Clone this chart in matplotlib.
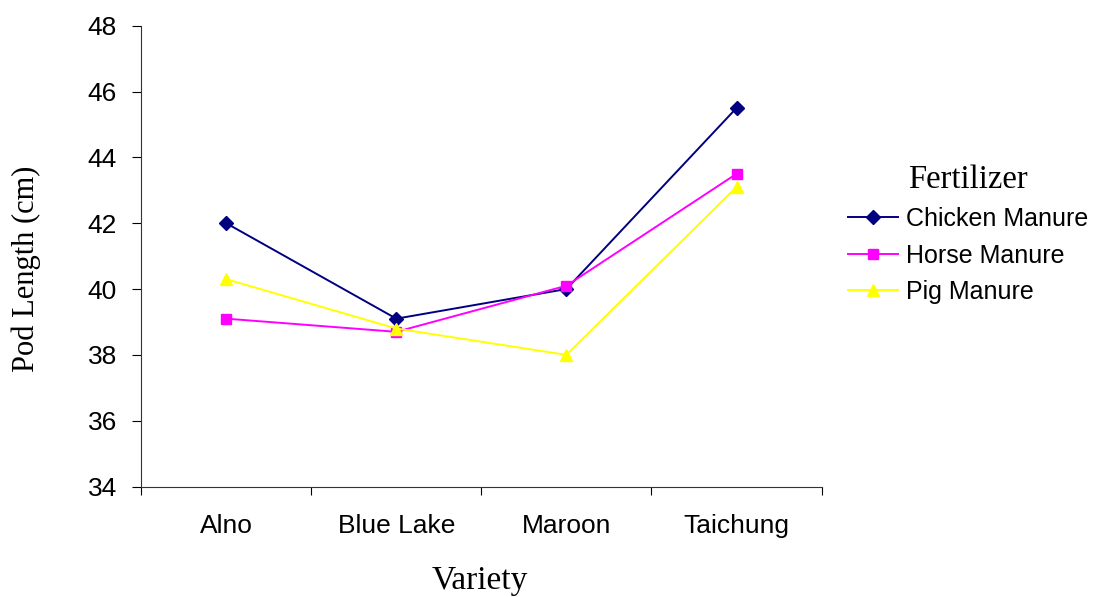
import matplotlib.pyplot as plt
import numpy as np

# Pod length by variety and fertilizer
varieties = ['Alno', 'Blue Lake', 'Maroon', 'Taichung']
chicken = [42.0, 39.1, 40.0, 45.5]
horse = [39.1, 38.7, 40.1, 43.5]
pig = [40.3, 38.8, 38.0, 43.1]

fig = plt.figure(figsize=(10.94, 5.97), dpi=100)
ax = fig.add_axes([0.129, 0.185, 0.622, 0.772])

x = np.arange(len(varieties))
ax.plot(x, chicken, color='#000080', marker='D', markersize=7, lw=1.4, label='Chicken Manure')
ax.plot(x, horse, color='#FF00FF', marker='s', markersize=7.5, lw=1.4, label='Horse Manure')
ax.plot(x, pig, color='#FFFF00', marker='^', markersize=8.5, lw=1.4, label='Pig Manure')

ax.set_xlim(-0.5, len(varieties) - 0.5)
ax.set_ylim(34, 48)
ax.set_yticks(np.arange(34, 49, 2))

# category labels centred, tick marks between categories
ax.set_xticks(x)
ax.set_xticklabels(varieties)
ax.set_xticks(np.arange(-0.5, len(varieties), 1), minor=True)
ax.tick_params(axis='x', which='major', length=0, pad=20)
ax.tick_params(axis='x', which='minor', length=6, width=0.8, direction='out')
ax.tick_params(axis='y', length=6.5, width=0.8, direction='out', pad=11)
for lab in ax.get_xticklabels() + ax.get_yticklabels():
    lab.set_family('Liberation Sans')
    lab.set_fontsize(19)

for s in ['top', 'right']:
    ax.spines[s].set_visible(False)
for s in ['left', 'bottom']:
    ax.spines[s].set_linewidth(0.8)
    ax.spines[s].set_color('#333333')

ax.set_ylabel('Pod Length (cm)', family='Liberation Serif', fontsize=22)
ax.yaxis.set_label_coords(-0.147, 0.473)
fig.text(0.439, 0.0134, 'Variety', family='Liberation Serif', fontsize=24, ha='center', va='baseline')

leg = ax.legend(loc='upper left', bbox_to_anchor=(0.766, 0.742), bbox_transform=fig.transFigure,
                frameon=False, title='Fertilizer', prop={'family': 'Liberation Sans', 'size': 18},
                title_fontproperties={'family': 'Liberation Serif', 'size': 23.5},
                handlelength=2.0, handletextpad=0.3, labelspacing=0.5, borderaxespad=0)

fig.savefig('out.png', dpi=100)
